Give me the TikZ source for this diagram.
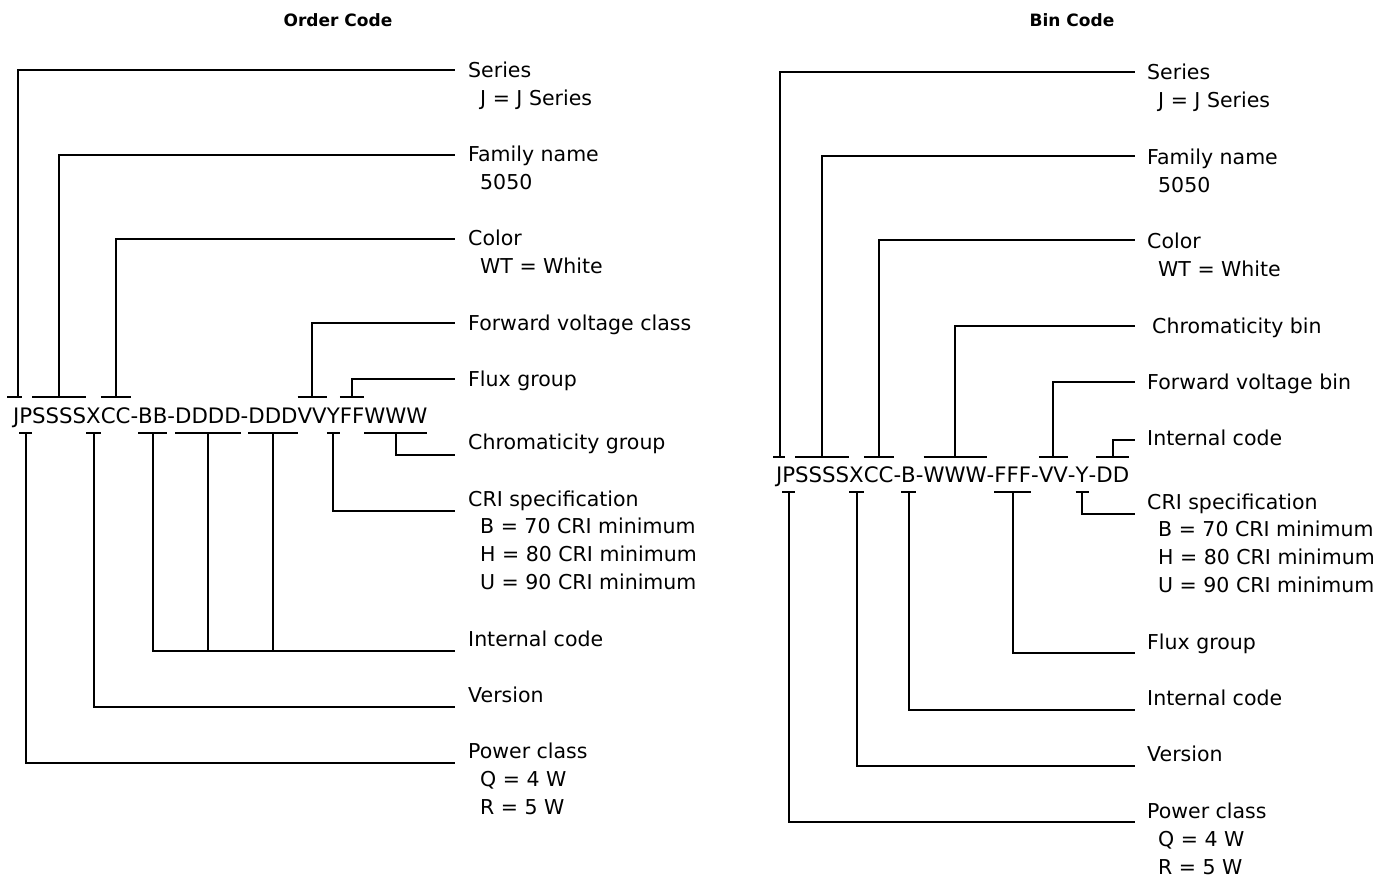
\documentclass[tikz,border=0pt]{standalone}
\usepackage{fontspec}
\setmainfont{DejaVu Sans}
\newcommand{\lblfont}{\fontsize{20.5}{24}\selectfont}
\newcommand{\codefont}{\fontsize{21.3}{24}\selectfont}
\begin{document}
\begin{tikzpicture}[x=1pt,y=-1pt,
  lbl/.style={anchor=base west, inner sep=0pt, font=\lblfont},
  seg/.style={anchor=base west, inner sep=0pt, outer sep=0pt, font=\codefont, text height=15pt, text depth=0pt},
  ln/.style={line width=2pt},
  ttl/.style={inner sep=0pt, font=\bfseries\fontsize{17}{20}\selectfont}
]
\useasboundingbox (0,0) rectangle (1385,877);
\def\up{26pt}
\def\dn{-9.5pt}

% ---------------- Titles
\node[ttl] (t1) at (338,20) {Order Code};
\node[ttl] (t2) at (1072,20) {Bin Code};

% ---------------- Left code
\node[seg] (lJ) at (13,423.5) {J};
\node[seg] (lP) at (lJ.base east) {P};
\node[seg] (lS) at (lP.base east) {SSSS};
\node[seg] (lX) at (lS.base east) {X};
\node[seg] (lC) at (lX.base east) {CC};
\node[seg] (ld1) at (lC.base east) {-};
\node[seg] (lB) at (ld1.base east) {BB};
\node[seg] (ld2) at (lB.base east) {-};
\node[seg] (lDa) at (ld2.base east) {DDDD};
\node[seg] (ld3) at (lDa.base east) {-};
\node[seg] (lDb) at (ld3.base east) {DDD};
\node[seg] (lV) at (lDb.base east) {VV};
\node[seg] (lY) at (lV.base east) {Y};
\node[seg] (lF) at (lY.base east) {FF};
\node[seg] (lW) at (lF.base east) {WWW};

% left labels
\node[lbl] (lSeries) at (468,78) {Series};
\node[lbl] (lSeries2) at (480,106) {J = J Series};
\node[lbl] (lFam) at (468,162) {Family name};
\node[lbl] (lFam2) at (480,190) {5050};
\node[lbl] (lCol) at (468,246) {Color};
\node[lbl] (lCol2) at (480,274) {WT = White};
\node[lbl] (lFV) at (468,331) {Forward voltage class};
\node[lbl] (lFlux) at (468,387) {Flux group};
\node[lbl] (lChr) at (468,449) {Chromaticity group};
\node[lbl] (lCRI) at (468,506) {CRI specification};
\node[lbl] (lCRI2) at (480,533) {B = 70 CRI minimum};
\node[lbl] (lCRI3) at (480,561) {H = 80 CRI minimum};
\node[lbl] (lCRI4) at (480,589) {U = 90 CRI minimum};
\node[lbl] (lInt) at (468,646) {Internal code};
\node[lbl] (lVer) at (468,702) {Version};
\node[lbl] (lPow) at (468,758) {Power class};
\node[lbl] (lPow2) at (480,786) {Q = 4 W};
\node[lbl] (lPow3) at (480,814) {R = 5 W};

% left line ends
\coordinate (elSeries) at (455,70);
\coordinate (elFam) at (455,155);
\coordinate (elCol) at (455,239);
\coordinate (elFV) at (455,323);
\coordinate (elFlux) at (455,379);
\coordinate (elChr) at (455,455);
\coordinate (elCRI) at (455,511);
\coordinate (elInt) at (455,651);
\coordinate (elVer) at (455,707);
\coordinate (elPow) at (455,763);

% left top bars and connectors
\draw[ln] ([xshift=-6pt,yshift=\up]lJ.base west) -- ([xshift=3pt,yshift=\up]lJ.base east);
\draw[ln] ([xshift=1.5pt,yshift=\up]lJ.base) |- (elSeries);
\foreach \n/\e in {lS/elFam, lC/elCol, lV/elFV, lF/elFlux}{
  \draw[ln] ([yshift=\up]\n.base west) -- ([yshift=\up]\n.base east);
  \draw[ln] ([yshift=\up]\n.base) |- (\e);
}
% left bottom bars and connectors
\foreach \n/\e in {lP/elPow, lX/elVer, lB/elInt, lY/elCRI, lW/elChr}{
  \draw[ln] ([yshift=\dn]\n.base west) -- ([yshift=\dn]\n.base east);
  \draw[ln] ([yshift=\dn]\n.base) |- (\e);
}
\foreach \n in {lDa, lDb}{
  \draw[ln] ([yshift=\dn]\n.base west) -- ([yshift=\dn]\n.base east);
  \draw[ln] ([yshift=\dn]\n.base) -- (\n.base |- elInt);
}

% ---------------- Right code
\node[seg] (rJ) at (776,482.5) {J};
\node[seg] (rP) at (rJ.base east) {P};
\node[seg] (rS) at (rP.base east) {SSSS};
\node[seg] (rX) at (rS.base east) {X};
\node[seg] (rC) at (rX.base east) {CC};
\node[seg] (rd1) at (rC.base east) {-};
\node[seg] (rB) at (rd1.base east) {B};
\node[seg] (rd2) at (rB.base east) {-};
\node[seg] (rW) at (rd2.base east) {WWW};
\node[seg] (rd3) at (rW.base east) {-};
\node[seg] (rF) at (rd3.base east) {FFF};
\node[seg] (rd4) at (rF.base east) {-};
\node[seg] (rV) at (rd4.base east) {VV};
\node[seg] (rd5) at (rV.base east) {-};
\node[seg] (rY) at (rd5.base east) {Y};
\node[seg] (rd6) at (rY.base east) {-};
\node[seg] (rD) at (rd6.base east) {DD};

% right labels
\node[lbl] (rSeries) at (1147,80) {Series};
\node[lbl] (rSeries2) at (1158,108) {J = J Series};
\node[lbl] (rFam) at (1147,165) {Family name};
\node[lbl] (rFam2) at (1158,193) {5050};
\node[lbl] (rCol) at (1147,249) {Color};
\node[lbl] (rCol2) at (1158,277) {WT = White};
\node[lbl] (rChr) at (1152,334) {Chromaticity bin};
\node[lbl] (rFV) at (1147,390) {Forward voltage bin};
\node[lbl] (rInt1) at (1147,446) {Internal code};
\node[lbl] (rCRI) at (1147,509) {CRI specification};
\node[lbl] (rCRI2) at (1158,536) {B = 70 CRI minimum};
\node[lbl] (rCRI3) at (1158,564) {H = 80 CRI minimum};
\node[lbl] (rCRI4) at (1158,592) {U = 90 CRI minimum};
\node[lbl] (rFlux) at (1147,649) {Flux group};
\node[lbl] (rInt2) at (1147,705) {Internal code};
\node[lbl] (rVer) at (1147,761) {Version};
\node[lbl] (rPow) at (1147,818) {Power class};
\node[lbl] (rPow2) at (1158,846) {Q = 4 W};
\node[lbl] (rPow3) at (1158,874) {R = 5 W};

% right line ends
\coordinate (erSeries) at (1135,72);
\coordinate (erFam) at (1135,156);
\coordinate (erCol) at (1135,240);
\coordinate (erChr) at (1135,326);
\coordinate (erFV) at (1135,382);
\coordinate (erInt1) at (1135,440);
\coordinate (erCRI) at (1135,514);
\coordinate (erFlux) at (1135,653);
\coordinate (erInt2) at (1135,710);
\coordinate (erVer) at (1135,766);
\coordinate (erPow) at (1135,822);

\draw[ln] ([xshift=-3pt,yshift=\up]rJ.base west) -- ([xshift=3pt,yshift=\up]rJ.base east);
\draw[ln] ([xshift=0.5pt,yshift=\up]rJ.base) |- (erSeries);
\foreach \n/\e in {rS/erFam, rC/erCol, rW/erChr, rV/erFV, rD/erInt1}{
  \draw[ln] ([yshift=\up]\n.base west) -- ([yshift=\up]\n.base east);
  \draw[ln] ([yshift=\up]\n.base) |- (\e);
}
\foreach \n/\e in {rP/erPow, rX/erVer, rB/erInt2, rF/erFlux, rY/erCRI}{
  \draw[ln] ([yshift=\dn]\n.base west) -- ([yshift=\dn]\n.base east);
  \draw[ln] ([yshift=\dn]\n.base) |- (\e);
}
\end{tikzpicture}
\end{document}
